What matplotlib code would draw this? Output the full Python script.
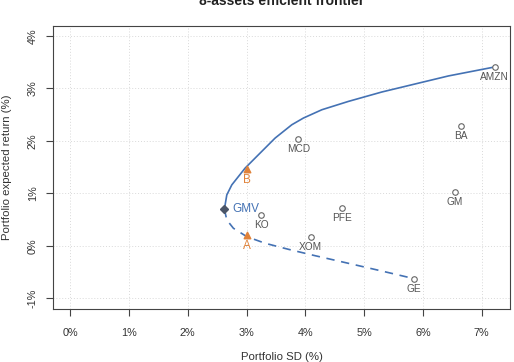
import matplotlib
matplotlib.use("Agg")
import matplotlib.pyplot as plt
from matplotlib.ticker import FuncFormatter

plt.rcParams['font.family'] = ['Liberation Sans', 'DejaVu Sans']

# Asset points (SD %, expected return %)
assets = ["AMZN", "BA", "GM", "GE", "MCD", "PFE", "XOM", "KO"]
asset_sd = [7.22, 6.64, 6.54, 5.84, 3.88, 4.62, 4.09, 3.25]
asset_ret = [3.41, 2.29, 1.02, -0.62, 2.04, 0.73, 0.18, 0.59]

# Efficient (upper) frontier
upper_sd = [2.624, 2.665, 2.750, 2.976, 3.202, 3.486, 3.770, 3.968, 4.281, 4.733, 5.301, 5.867, 6.434, 7.22]
upper_ret = [0.700, 0.973, 1.164, 1.483, 1.737, 2.055, 2.309, 2.437, 2.595, 2.754, 2.933, 3.086, 3.239, 3.41]

# Inefficient (lower) frontier
lower_sd = [2.624, 2.665, 2.777, 3.005, 3.316, 3.712, 4.167, 4.733, 5.301, 5.84]
lower_ret = [0.700, 0.496, 0.338, 0.178, 0.052, -0.063, -0.185, -0.330, -0.477, -0.62]

# Special portfolios
gmv_sd, gmv_ret = 2.62, 0.70
port_names = ["A", "B"]
port_sd = [3.0, 3.0]
port_ret = [0.20, 1.47]

xticks = [0, 1, 2, 3, 4, 5, 6, 7]
yticks = [-1, 0, 1, 2, 3, 4]

blue = "#4472b4"
orange = "#e0823a"
gray = "#555555"

fig = plt.figure(figsize=(5.14, 3.62), dpi=100)
ax = fig.add_axes([53/514, 1-309/362, (510-53)/514, (309-26)/362])

ax.set_xlim(-0.29, 7.48)
ax.set_ylim(-1.2, 4.19)

for t in xticks:
    ax.axvline(t, color="#d9d9d9", lw=0.7, ls=(0, (1, 2)), zorder=0)
for t in yticks:
    ax.axhline(t, color="#d9d9d9", lw=0.7, ls=(0, (1, 2)), zorder=0)

ax.plot(upper_sd, upper_ret, color=blue, lw=1.2, zorder=2)
ax.plot(lower_sd, lower_ret, color=blue, lw=1.2, ls=(0, (5, 4)), zorder=2)

ax.scatter(asset_sd, asset_ret, s=16, facecolors="white", edgecolors="#666666", linewidths=0.8, zorder=3)
for n, x, y in zip(assets, asset_sd, asset_ret):
    ax.annotate(n, (x, y), xytext=(0, -10), textcoords="offset pixels",
                ha="center", va="center", fontsize=7.3, color=gray)

ax.plot([gmv_sd], [gmv_ret], marker="D", ms=4, color="#4a5568", zorder=4)
ax.annotate("GMV", (gmv_sd, gmv_ret), xytext=(8, 0), textcoords="offset pixels",
            ha="left", va="center", fontsize=8.5, color=blue)

ax.scatter(port_sd, port_ret, marker="^", s=22, color=orange, zorder=4)
for n, x, y in zip(port_names, port_sd, port_ret):
    ax.annotate(n, (x, y), xytext=(0, -11), textcoords="offset pixels",
                ha="center", va="center", fontsize=8.5, color=orange)

ax.set_xticks(xticks)
ax.set_yticks(yticks)
ax.xaxis.set_major_formatter(FuncFormatter(lambda v, p: f"{int(round(v))}%"))
ax.yaxis.set_major_formatter(FuncFormatter(lambda v, p: f"{int(round(v))}%"))
ax.tick_params(axis="both", direction="out", length=5, width=0.8, colors="#444444",
               labelsize=7.8, labelcolor="#333333")
ax.tick_params(axis="x", pad=9)
ax.tick_params(axis="y", pad=6)
for lab in ax.get_yticklabels():
    lab.set_rotation(90)
    lab.set_va("center")
for s in ax.spines.values():
    s.set_color("#444444")
    s.set_linewidth(0.8)

fig.text(281.5/514, 1-357/362, "Portfolio SD (%)", ha="center", va="center", fontsize=8.2, color="#333333")
fig.text(7/514, 1-(26+309)/2/362, "Portfolio expected return (%)", ha="center", va="center",
         rotation=90, fontsize=8.2, color="#333333")
fig.text(281.5/514, 1-5/362, "8-assets efficient frontier", ha="center", va="baseline",
         fontsize=10, fontweight="bold", color="#222222")

fig.savefig("out.png", dpi=100)
